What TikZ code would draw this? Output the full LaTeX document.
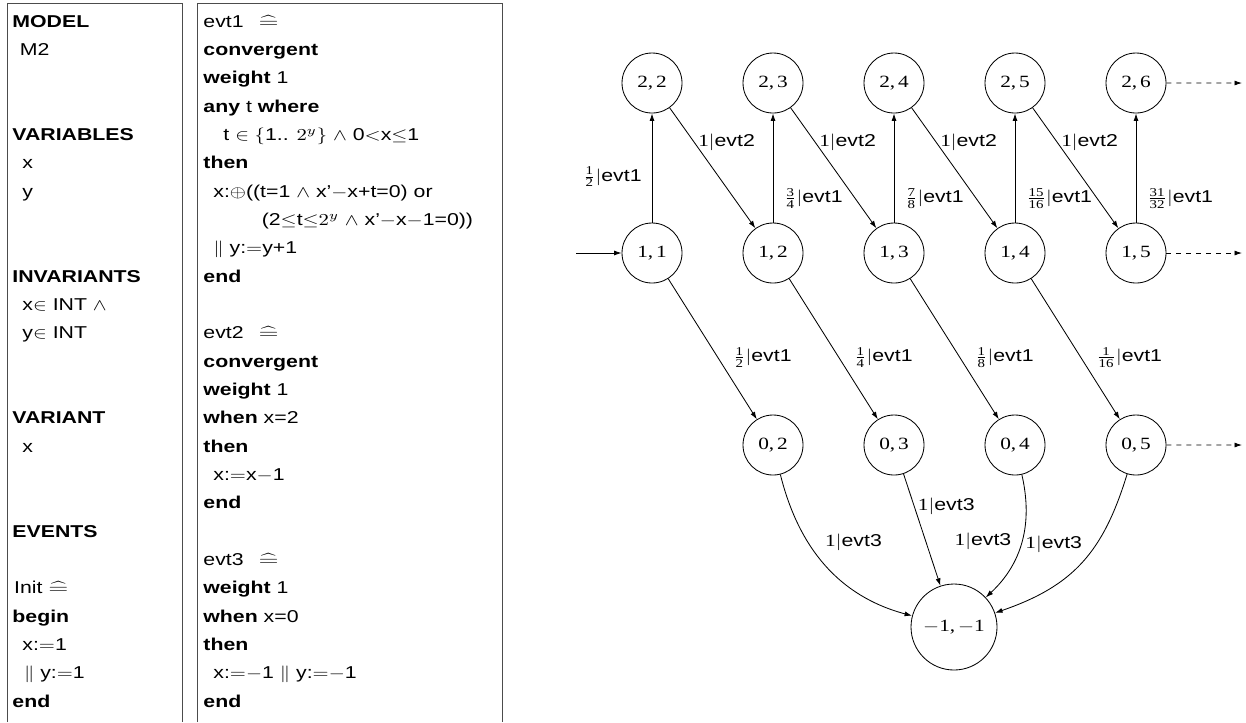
\documentclass[tikz,border=0pt]{standalone}
\usepackage{amsmath}
\usepackage{graphicx}
\usepackage[no-math]{fontspec}
\setmainfont{Liberation Sans}[FakeStretch=1.24]
\newfontfamily\statefont{Liberation Serif}[FakeStretch=1.24]
\usetikzlibrary{positioning, arrows.meta}

\newcommand{\m}[1]{\scalebox{1.24}[1]{$#1$}}
\newcommand{\fr}[2]{\scalebox{1.24}[1]{$\frac{\hbox{\fontsize{7.2}{8}\selectfont\statefont\scalebox{0.8065}[1]{#1}}}{\hbox{\fontsize{7.2}{8}\selectfont\statefont\scalebox{0.8065}[1]{#2}}}$}}
\newcommand{\eqdef}{\scalebox{1.55}[1]{$\widehat{=}$}}

\begin{document}
\begin{tikzpicture}[x=0.6pt, y=0.6pt, >={Latex[length=4.5pt,width=3pt]}, node distance=36.1pt, line width=0.5pt,
    state/.style = {draw, circle, minimum size=36pt, inner sep=1pt, font=\statefont\fontsize{10.3}{12}\selectfont},
    codeline/.style = {anchor=base west, inner sep=0pt, font=\fontsize{10.3}{17}\selectfont},
    lab/.style = {inner sep=2pt, font=\fontsize{10.3}{12}\selectfont},
    tablerule/.style = {draw=black!70, line width=0.6pt}]

    \useasboundingbox (0,0) rectangle (1246,-722);

    % the two text columns
    \draw[tablerule] (7,-722) -- (7,-3) -- (182,-3) -- (182,-722);
    \draw[tablerule] (197,-722) -- (197,-3) -- (502,-3) -- (502,-722);

    \foreach \n/\txt in {1/{\textbf{MODEL}}, 2/{\hspace{4.5pt}M2}, 5/{\textbf{VARIABLES}},
        6/{\hspace{6pt}x}, 7/{\hspace{6pt}y}, 10/{\textbf{INVARIANTS}},
        11/{\hspace{6pt}x\m{\in} INT \m{\wedge}}, 12/{\hspace{6pt}y\m{\in} INT},
        15/{\textbf{VARIANT}}, 16/{\hspace{6pt}x}, 19/{\textbf{EVENTS}},
        21/{\hspace{1pt}Init \eqdef}, 22/{\textbf{begin}}, 23/{\hspace{6pt}x:\m{=}1},
        24/{\hspace{7pt}\m{\|} y:\m{=}1}, 25/{\textbf{end}}}
        \node[codeline] (l\n) at (12, {-27.3-28.33*(\n-1)}) {\txt};

    \foreach \n/\txt in {1/{evt1\hspace{9pt}\eqdef}, 2/{\textbf{convergent}}, 3/{\textbf{weight} 1},
        4/{\textbf{any} t \textbf{where}},
        5/{\hspace{12pt}t \m{\in\{}1.. \m{2^y\}} \m{\wedge} 0\m{<}x\m{\leq}1}, 6/{\textbf{then}},
        7/{\hspace{6pt}x:\m{\oplus}((t=1 \m{\wedge} x’\m{-}x+t=0) or},
        8/{\hspace{35pt}(2\m{\leq}t\m{\leq}\m{2^y} \m{\wedge} x’\m{-}x\m{-}1=0))},
        9/{\hspace{6pt}\m{\|} y:\m{=}y+1}, 10/{\textbf{end}},
        12/{evt2\hspace{9pt}\eqdef}, 13/{\textbf{convergent}}, 14/{\textbf{weight} 1},
        15/{\textbf{when} x=2}, 16/{\textbf{then}}, 17/{\hspace{6pt}x:\m{=}x\m{-}1}, 18/{\textbf{end}},
        20/{evt3\hspace{9pt}\eqdef}, 21/{\textbf{weight} 1}, 22/{\textbf{when} x=0}, 23/{\textbf{then}},
        24/{\hspace{6pt}x:\m{=}\m{-}1 \m{\|} y:\m{=}\m{-}1}, 25/{\textbf{end}}}
        \node[codeline] (r\n) at (203, {-27.3-28.33*(\n-1)}) {\txt};

    % states
    \node[state] (s11) at (652,-253) {1,\,1};
    \node[state] (s12) [right=of s11] {1,\,2};
    \node[state] (s13) [right=of s12] {1,\,3};
    \node[state] (s14) [right=of s13] {1,\,4};
    \node[state] (s15) [right=of s14] {1,\,5};
    \node[state] (s22) [above=65.5pt of s11] {2,\,2};
    \node[state] (s23) [right=of s22] {2,\,3};
    \node[state] (s24) [right=of s23] {2,\,4};
    \node[state] (s25) [right=of s24] {2,\,5};
    \node[state] (s26) [right=of s25] {2,\,6};
    \node[state] (s02) [below=78.7pt of s12] {0,\,2};
    \node[state] (s03) [right=of s02] {0,\,3};
    \node[state] (s04) [right=of s03] {0,\,4};
    \node[state] (s05) [right=of s04] {0,\,5};
    \node[state, minimum size=51.6pt] (sink) at (954,-627) {\m{-}1,\,\m{-}1};

    \coordinate (init) at (576,-253);
    \coordinate (e26) at (1242,-83);
    \coordinate (e15) at (1242,-253);
    \coordinate (e05) at (1242,-445);

    \draw[->] (init) -- (s11);

    \draw[->] (s11) -- node[lab, pos=.42, left=4pt] {\fr12\m{|}evt1} (s22);
    \draw[->] (s12) -- node[lab, pos=.22, right=4.5pt] {\fr34\m{|}evt1} (s23);
    \draw[->] (s13) -- node[lab, pos=.22, right=4.5pt] {\fr78\m{|}evt1} (s24);
    \draw[->] (s14) -- node[lab, pos=.22, right=4.5pt] {\fr{15}{16}\m{|}evt1} (s25);
    \draw[->] (s15) -- node[lab, pos=.22, right=4.5pt] {\fr{31}{32}\m{|}evt1} (s26);

    \draw[->] (s22) -- node[lab, pos=.29, right] {{\statefont 1}\m{|}evt2} (s12);
    \draw[->] (s23) -- node[lab, pos=.29, right] {{\statefont 1}\m{|}evt2} (s13);
    \draw[->] (s24) -- node[lab, pos=.29, right] {{\statefont 1}\m{|}evt2} (s14);
    \draw[->] (s25) -- node[lab, pos=.29, right] {{\statefont 1}\m{|}evt2} (s15);

    \draw[->] (s11) -- node[lab, pos=.56, right=7pt] {\fr12\m{|}evt1} (s02);
    \draw[->] (s12) -- node[lab, pos=.56, right=7pt] {\fr14\m{|}evt1} (s03);
    \draw[->] (s13) -- node[lab, pos=.56, right=7pt] {\fr18\m{|}evt1} (s04);
    \draw[->] (s14) -- node[lab, pos=.56, right=7pt] {\fr{1}{16}\m{|}evt1} (s05);

    \draw[->] (s02) to[out=-76, in=165] node[lab, pos=.35, right=8pt] {{\statefont 1}\m{|}evt3} (sink);
    \draw[->] (s03) -- node[lab, pos=.29, right] {{\statefont 1}\m{|}evt3} (sink);
    \draw[->] (s04) to[out=-77, in=43] node[lab, pos=.5, left=4pt] {{\statefont 1}\m{|}evt3} (sink);
    \draw[->] (s05) to[out=-107, in=19, looseness=1.1] node[lab, pos=.37, left=6pt] {{\statefont 1}\m{|}evt3} (sink);

    \draw[->, dash pattern=on 3pt off 3pt] (s26) -- (e26);
    \draw[->, dash pattern=on 3pt off 3pt] (s15) -- (e15);
    \draw[->, dash pattern=on 3pt off 3pt] (s05) -- (e05);
\end{tikzpicture}
\end{document}
